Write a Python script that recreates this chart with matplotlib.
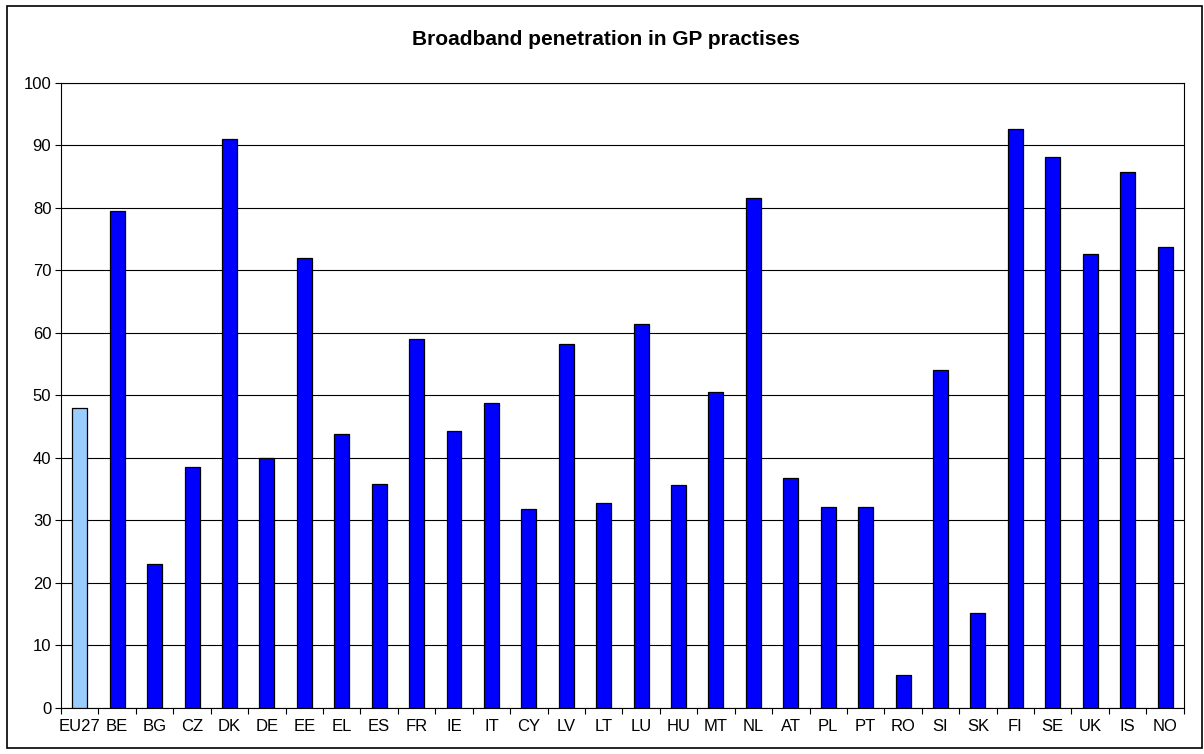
import numpy as np
import matplotlib.pyplot as plt
from matplotlib.patches import Rectangle

# --- data ---
countries = ['EU27', 'BE', 'BG', 'CZ', 'DK', 'DE', 'EE', 'EL', 'ES', 'FR',
             'IE', 'IT', 'CY', 'LV', 'LT', 'LU', 'HU', 'MT', 'NL', 'AT',
             'PL', 'PT', 'RO', 'SI', 'SK', 'FI', 'SE', 'UK', 'IS', 'NO']
penetration = [47.9, 79.5, 23.0, 38.5, 91.0, 40.0, 72.0, 43.8, 35.8, 59.0,
               44.3, 48.8, 31.8, 58.3, 32.7, 61.5, 35.7, 50.6, 81.6, 36.8,
               32.1, 32.1, 5.2, 54.0, 15.2, 92.7, 88.1, 72.6, 85.7, 73.8]

plt.rcParams['font.family'] = ['Liberation Sans', 'DejaVu Sans']

fig = plt.figure(figsize=(12.04, 7.54), dpi=100)
ax = fig.add_axes([0.0507, 0.0614, 0.9325, 0.8285])

x = np.arange(len(countries))
colors = ['#99CCFF'] + ['#0000FF'] * (len(countries) - 1)
ax.bar(x, penetration, width=0.4, color=colors, edgecolor='black', linewidth=0.9, zorder=3)

ax.set_xlim(-0.5, len(countries) - 0.5)
ax.set_ylim(0, 100)
ax.set_yticks(range(0, 101, 10))
ax.yaxis.grid(True, color='black', linewidth=0.8, zorder=0)
ax.tick_params(axis='y', length=4, width=0.8, labelsize=12, pad=3)

ax.set_xticks(x)
ax.set_xticklabels(countries)
ax.tick_params(axis='x', which='major', length=0, labelsize=12, pad=8)
ax.set_xticks(np.arange(-0.5, len(countries), 1), minor=True)
ax.tick_params(axis='x', which='minor', length=4, width=0.8)

for s in ax.spines.values():
    s.set_color('black')
    s.set_linewidth(0.8)

fig.text(0.503, 0.947, 'Broadband penetration in GP practises',
         ha='center', va='center', fontsize=15, fontweight='bold')

# outer chart frame
fig.patches.append(Rectangle((7 / 1204, 6 / 754), 1195 / 1204, 742 / 754,
                             transform=fig.transFigure, fill=False,
                             edgecolor='black', linewidth=1.2))

fig.savefig('out.png', dpi=100)
